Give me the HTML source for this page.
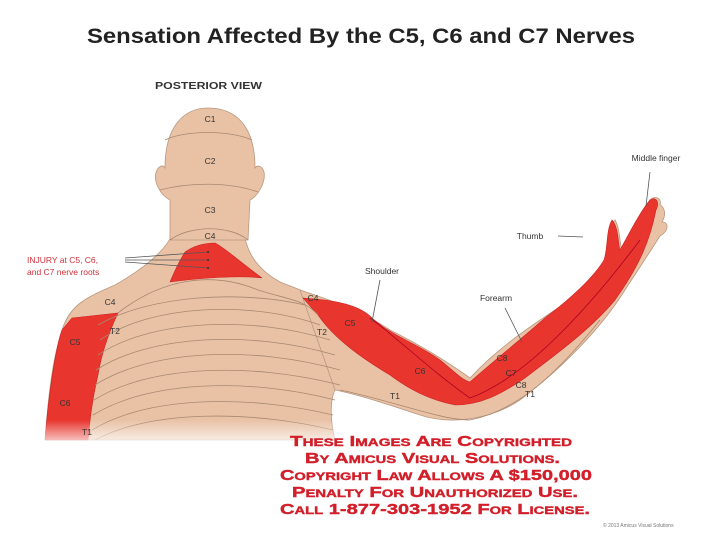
<!DOCTYPE html>
<html><head><style>
html,body{margin:0;padding:0;background:#fff;}
svg{display:block;}
</style></head><body>
<svg width="720" height="556" viewBox="0 0 720 556" xmlns="http://www.w3.org/2000/svg" font-family="Liberation Sans, sans-serif">
<defs>
<linearGradient id="fade" x1="0" y1="0" x2="0" y2="1">
<stop offset="0.8" stop-color="#fff" stop-opacity="0"/>
<stop offset="1" stop-color="#fff" stop-opacity="1"/>
</linearGradient>
</defs>
<text x="361" y="43" font-size="21" font-weight="bold" text-anchor="middle" fill="#222" textLength="548" lengthAdjust="spacingAndGlyphs">Sensation Affected By the C5, C6 and C7 Nerves</text>
<text x="155" y="89" font-size="10" font-weight="bold" fill="#333" textLength="107" lengthAdjust="spacingAndGlyphs">POSTERIOR VIEW</text>

<g stroke="#b89880" stroke-width="0.8" fill="#e9c2a6">
<path d="M175,225 C172,245 150,265 115,285 C85,298 70,305 62,330 C52,360 48,400 45,440 L335,440 C330,420 330,400 335,390 C345,375 350,345 330,305 C315,295 300,290 280,282 C255,268 245,250 243,225 Z"/>
<path d="M300,290 C330,300 360,310 390,330 C420,345 445,360 470,378 C500,345 540,320 570,300 C595,280 608,265 612,250 C612,240 610,225 615,220 C620,228 620,245 622,252 C632,235 640,215 650,200 C655,195 662,198 660,205 C662,205 668,212 662,222 C670,222 668,232 660,236 C650,252 638,270 625,290 C600,330 560,370 520,400 C490,420 450,425 420,415 C390,405 360,395 335,390 Z"/>
<path d="M170,240 L170,200 C160,195 152,180 157,170 C160,165 163,165 165,168 C165,125 185,108 208,108 C235,108 255,125 255,168 C257,165 262,165 264,172 C266,182 258,196 250,200 L248,240 Z"/>
</g>
<g fill="#e8362f" stroke="#c22" stroke-width="0.6">
<path d="M185,252 C195,245 205,243 215,243 C225,248 240,262 262,278 C240,275 200,278 170,282 C175,270 180,260 185,252 Z"/>
<path d="M72,318 L118,313 C110,330 102,350 98,375 C92,400 90,420 88,440 L45,440 C48,400 55,350 62,330 Z"/>
<path d="M303,298 C335,300 360,305 372,318 C390,335 420,345 440,360 C455,372 462,380 470,382 C495,360 520,340 545,318 C575,295 595,275 604,260 C608,248 606,230 612,220 C619,228 618,245 620,250 C630,232 640,212 650,200 C656,196 660,202 656,210 C650,240 640,265 615,300 C590,330 555,355 525,378 C500,395 480,405 455,405 C430,400 410,390 390,375 C365,360 335,340 318,315 Z"/>
</g>
<g fill="none" stroke="#a88870" stroke-width="0.8">
<path d="M165,140 C185,130 230,130 252,140"/>
<path d="M160,190 C190,182 230,182 258,192"/>
<path d="M170,240 C190,225 230,225 248,240"/>
<path d="M118,313 C160,280 210,270 258,290 C290,300 305,300 318,315"/>
<path d="M100,340 C150,305 250,300 320,325"/>
<path d="M98,355 C150,320 250,315 330,340"/>
<path d="M96,370 C150,335 250,330 335,355"/>
<path d="M95,385 C150,350 250,345 340,370"/>
<path d="M94,400 C150,365 250,362 340,385"/>
<path d="M93,415 C150,380 250,378 335,400"/>
<path d="M92,430 C150,395 250,395 333,415"/>
<path d="M95,440 C150,410 250,410 333,430"/>
<path d="M98,325 C150,295 240,290 305,305"/>
<path d="M340,390 C390,400 440,420 470,420 C520,410 560,370 600,320"/>
<path d="M370,318 C400,340 430,370 470,398 C520,380 580,320 640,240" stroke="#a02"/>
</g>
<rect x="0" y="300" width="360" height="150" fill="url(#fade)"/>
<g stroke="#555" stroke-width="0.8" fill="none">
<path d="M125,258 L208,252 M125,260 L208,260 M125,262 L208,268"/>
<path d="M380,280 L372,322 M505,308 L522,342 M558,236 L583,237 M650,172 L646,206"/>
</g>
<g fill="#333"><circle cx="208" cy="252" r="1"/><circle cx="208" cy="260" r="1"/><circle cx="208" cy="268" r="1"/></g>
<g font-size="8.5" fill="#333" text-anchor="middle">
<text x="210" y="122">C1</text><text x="210" y="164">C2</text><text x="210" y="213">C3</text><text x="210" y="239">C4</text>
<text x="110" y="305">C4</text><text x="115" y="334">T2</text><text x="75" y="345">C5</text><text x="65" y="406">C6</text><text x="87" y="435">T1</text>
<text x="313" y="301">C4</text><text x="350" y="326">C5</text><text x="322" y="335">T2</text><text x="420" y="374">C6</text><text x="395" y="399">T1</text>
<text x="502" y="361">C8</text><text x="511" y="376">C7</text><text x="521" y="388">C8</text><text x="530" y="397">T1</text>
<text x="382" y="274">Shoulder</text><text x="496" y="301">Forearm</text><text x="530" y="239">Thumb</text><text x="656" y="161">Middle finger</text>
</g>
<text x="27" y="263" font-size="8.5" fill="#d0303a">INJURY at C5, C6,</text>
<text x="27" y="275" font-size="8.5" fill="#d0303a">and C7 nerve roots</text>
<g font-size="15" font-weight="bold" fill="#d21f2a" font-family="Liberation Sans, sans-serif" style="font-variant:small-caps" stroke="#d21f2a" stroke-width="0.4" lengthAdjust="spacingAndGlyphs">
<text x="290" y="446" textLength="282" lengthAdjust="spacingAndGlyphs">These Images Are Copyrighted</text>
<text x="305" y="463" textLength="255" lengthAdjust="spacingAndGlyphs">By Amicus Visual Solutions.</text>
<text x="280" y="480" textLength="312" lengthAdjust="spacingAndGlyphs">Copyright Law Allows A $150,000</text>
<text x="292" y="497" textLength="286" lengthAdjust="spacingAndGlyphs">Penalty For Unauthorized Use.</text>
<text x="280" y="514" textLength="310" lengthAdjust="spacingAndGlyphs">Call 1-877-303-1952 For License.</text>
</g>
<text x="603" y="527" font-size="5" fill="#777">© 2013 Amicus Visual Solutions</text>
</svg>
</body></html>
